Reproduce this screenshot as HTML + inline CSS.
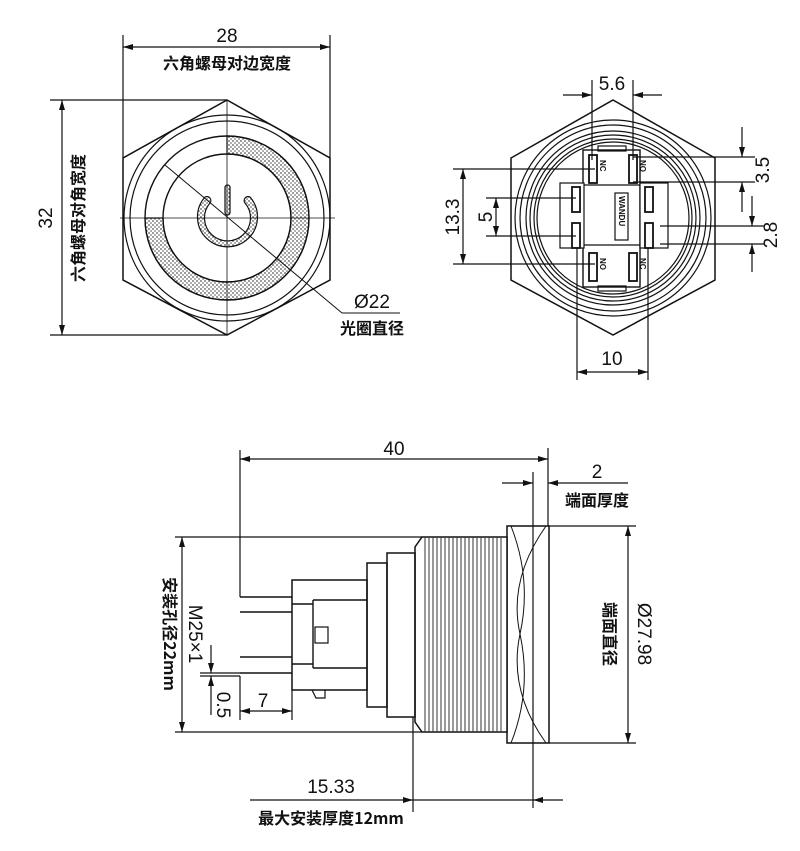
<!DOCTYPE html>
<html><head><meta charset="utf-8"><style>
html,body{margin:0;padding:0;background:#fff;}
svg{display:block;}
text{font-family:"Liberation Sans Narrow","Liberation Sans","Noto Sans CJK SC",sans-serif;fill:#111;}
.n{font-size:19px;}
.c{font-size:16px;font-weight:bold;font-family:"Noto Sans CJK SC","Liberation Sans",sans-serif;}
.cm{font-size:16px;font-weight:bold;font-family:"Liberation Sans Narrow","Noto Sans CJK SC",sans-serif;}
</style></head><body>
<svg width="800" height="851" viewBox="0 0 800 851" xmlns="http://www.w3.org/2000/svg">
<defs>
<pattern id="dots" width="4" height="4" patternUnits="userSpaceOnUse">
<rect width="4" height="4" fill="#fff"/><circle cx="1" cy="1" r="0.9" fill="#555"/><circle cx="3" cy="3" r="0.9" fill="#777"/>
</pattern>
<marker id="a" viewBox="0 0 10 6" refX="10" refY="3" markerWidth="11" markerHeight="6" orient="auto-start-reverse" markerUnits="userSpaceOnUse"><path d="M0,0 L10,3 L0,6 z" fill="#111"/></marker>
</defs>
<g stroke="#111" stroke-width="1.2" fill="none">
<!-- VIEW 1 -->
<polygon points="227,100 330,158 330,280 227,335 123,280 123,158" stroke-width="1.5"/>
<circle cx="227" cy="218" r="103"/>
<circle cx="227" cy="218" r="97"/>
<path d="M227,136 A82,82 0 1 1 145,218 L163,218 A64,64 0 1 0 227,154 Z" fill="url(#dots)"/>
<circle cx="227" cy="218" r="82" stroke-width="1.4"/>
<circle cx="227" cy="218" r="64" stroke-width="1.4"/>
<path d="M205,197 A30,30 0 1 0 250,197 A4,4 0 0 0 245,203 A23,23 0 1 1 210,203 A4,4 0 0 0 205,197 Z" fill="url(#dots)"/>
<rect x="225" y="185" width="5" height="30" rx="2.5" fill="url(#dots)"/>
<line x1="227" y1="100" x2="227" y2="335" stroke-width="0.8"/>
<line x1="120" y1="218" x2="335" y2="218" stroke-width="0.8"/>
<line x1="165" y1="165" x2="342" y2="313" stroke-width="1"/>
<line x1="342" y1="313" x2="400" y2="313" stroke-width="1"/>
<line x1="123" y1="35" x2="123" y2="158"/><line x1="330" y1="35" x2="330" y2="158"/>
<line x1="123" y1="47" x2="330" y2="47" marker-start="url(#a)" marker-end="url(#a)"/>
<line x1="50" y1="100" x2="227" y2="100"/><line x1="50" y1="335" x2="227" y2="335"/>
<line x1="62" y1="100" x2="62" y2="335" marker-start="url(#a)" marker-end="url(#a)"/>

<!-- VIEW 2 -->
<polygon points="613,100 715,158 715,280 613,335 511,280 511,158" stroke-width="1.5"/>
<circle cx="613" cy="218" r="98"/>
<circle cx="613" cy="218" r="93"/>
<circle cx="613" cy="218" r="87"/>
<circle cx="613" cy="218" r="83"/>
<circle cx="613" cy="218" r="79"/>
<circle cx="613" cy="218" r="76"/>
<rect x="583" y="150" width="57" height="137" fill="#fff" stroke-width="1.4"/>
<line x1="583" y1="185" x2="640" y2="185"/><line x1="583" y1="245" x2="640" y2="245"/>
<rect x="598" y="146" width="28" height="5"/><rect x="598" y="286" width="28" height="5"/>
<rect x="560" y="183" width="24" height="65" fill="#fff"/>
<rect x="640" y="183" width="28" height="65" fill="#fff"/>
<rect x="589" y="155" width="8" height="28" stroke-width="1.8"/><rect x="629" y="155" width="8" height="28" stroke-width="1.8"/>
<rect x="589" y="253" width="8" height="28" stroke-width="1.8"/><rect x="629" y="253" width="8" height="28" stroke-width="1.8"/>
<rect x="572" y="187" width="8" height="25" stroke-width="1.8"/><rect x="572" y="223" width="8" height="25" stroke-width="1.8"/>
<rect x="645" y="187" width="8" height="25" stroke-width="1.8"/><rect x="645" y="223" width="8" height="25" stroke-width="1.8"/>
<rect x="615" y="193" width="13" height="47"/>
<line x1="592" y1="80" x2="592" y2="160"/><line x1="633" y1="80" x2="633" y2="160"/>
<line x1="563" y1="95" x2="592" y2="95" marker-end="url(#a)"/><line x1="662" y1="95" x2="633" y2="95" marker-end="url(#a)"/>
<line x1="453" y1="169" x2="595" y2="169"/><line x1="453" y1="264" x2="595" y2="264"/>
<line x1="463" y1="169" x2="463" y2="264" marker-start="url(#a)" marker-end="url(#a)"/>
<line x1="486" y1="198" x2="576" y2="198"/><line x1="486" y1="236" x2="576" y2="236"/>
<line x1="496" y1="198" x2="496" y2="236" marker-start="url(#a)" marker-end="url(#a)"/>
<line x1="633" y1="157" x2="755" y2="157"/><line x1="633" y1="182" x2="755" y2="182"/>
<line x1="742" y1="127" x2="742" y2="157" marker-end="url(#a)"/><line x1="742" y1="212" x2="742" y2="182" marker-end="url(#a)"/>
<line x1="660" y1="226" x2="765" y2="226"/><line x1="660" y1="244" x2="765" y2="244"/>
<line x1="752" y1="196" x2="752" y2="226" marker-end="url(#a)"/><line x1="752" y1="272" x2="752" y2="244" marker-end="url(#a)"/>
<line x1="577" y1="248" x2="577" y2="380"/><line x1="648" y1="248" x2="648" y2="380"/>
<line x1="577" y1="372" x2="648" y2="372" marker-start="url(#a)" marker-end="url(#a)"/>

<!-- VIEW 3 -->
<rect x="507" y="526" width="42" height="217" fill="#fff" stroke-width="1.5"/>
<path d="M511,526 Q532,580 520,634 Q532,690 511,743 M546,526 Q508,580 520,634 Q508,690 546,743" stroke-width="1"/>
<path d="M422,537 L507,537 L507,732 L422,732 L415,722 L415,547 Z" fill="#fff" stroke-width="1.5"/>
<g stroke-width="1" stroke="#333">
<line x1="425" y1="537" x2="425" y2="732"/><line x1="429" y1="537" x2="429" y2="732"/>
<line x1="433" y1="537" x2="433" y2="732"/><line x1="437" y1="537" x2="437" y2="732"/>
<line x1="441" y1="537" x2="441" y2="732"/><line x1="445" y1="537" x2="445" y2="732"/>
<line x1="449" y1="537" x2="449" y2="732"/><line x1="453" y1="537" x2="453" y2="732"/>
<line x1="457" y1="537" x2="457" y2="732"/><line x1="461" y1="537" x2="461" y2="732"/>
<line x1="465" y1="537" x2="465" y2="732"/><line x1="469" y1="537" x2="469" y2="732"/>
<line x1="473" y1="537" x2="473" y2="732"/><line x1="477" y1="537" x2="477" y2="732"/>
<line x1="481" y1="537" x2="481" y2="732"/><line x1="485" y1="537" x2="485" y2="732"/>
<line x1="489" y1="537" x2="489" y2="732"/><line x1="493" y1="537" x2="493" y2="732"/>
<line x1="497" y1="537" x2="497" y2="732"/><line x1="501" y1="537" x2="501" y2="732"/>
</g>
<rect x="387" y="553" width="28" height="164" stroke-width="1.5"/>
<rect x="367" y="563" width="20" height="144" stroke-width="1.5"/>
<path d="M292,580 L367,580 L367,690 L292,690 Z" stroke-width="1.5"/>
<path d="M313,600 L367,600 M313,668 L367,668 M313,600 L313,668 M292,604 L313,604 M292,664 L313,664" stroke-width="1.4"/>
<rect x="315" y="627" width="13" height="16"/>
<path d="M312,690 L316,698 L325,698 L325,690"/>
<g stroke-width="1.4">
<line x1="240" y1="597" x2="292" y2="597"/><line x1="240" y1="612" x2="292" y2="612"/>
<line x1="240" y1="657" x2="292" y2="657"/><line x1="240" y1="673" x2="292" y2="673"/>
</g>
<line x1="240" y1="450" x2="240" y2="597"/><line x1="548" y1="448" x2="548" y2="526"/>
<line x1="240" y1="459" x2="548" y2="459" marker-start="url(#a)" marker-end="url(#a)"/>
<line x1="533" y1="472" x2="533" y2="808"/>
<line x1="502" y1="483" x2="533" y2="483" marker-end="url(#a)"/>
<line x1="628" y1="483" x2="548" y2="483" marker-end="url(#a)"/>
<line x1="175" y1="537" x2="422" y2="537"/><line x1="175" y1="732" x2="422" y2="732"/>
<line x1="182" y1="537" x2="182" y2="732" marker-start="url(#a)" marker-end="url(#a)"/>
<line x1="549" y1="526" x2="636" y2="526"/><line x1="549" y1="743" x2="636" y2="743"/>
<line x1="628" y1="526" x2="628" y2="743" marker-start="url(#a)" marker-end="url(#a)"/>
<line x1="200" y1="673" x2="240" y2="673"/><line x1="200" y1="676" x2="240" y2="676"/>
<line x1="211" y1="645" x2="211" y2="673" marker-end="url(#a)"/><line x1="211" y1="715" x2="211" y2="676" marker-end="url(#a)"/>
<line x1="240" y1="676" x2="240" y2="720"/><line x1="292" y1="690" x2="292" y2="720"/>
<line x1="240" y1="711" x2="292" y2="711" marker-start="url(#a)" marker-end="url(#a)"/>
<line x1="413" y1="717" x2="413" y2="812"/>
<line x1="250" y1="800" x2="413" y2="800" marker-end="url(#a)"/>
<line x1="563" y1="800" x2="533" y2="800" marker-end="url(#a)"/>
<line x1="413" y1="800" x2="533" y2="800"/>
</g>
<!-- texts -->
<text class="n" x="227" y="42" text-anchor="middle">28</text>
<text class="c" x="227" y="69" text-anchor="middle">六角螺母对边宽度</text>
<text class="n" transform="translate(52,218) rotate(-90)" text-anchor="middle">32</text>
<text class="c" transform="translate(84,218) rotate(-90)" text-anchor="middle">六角螺母对角宽度</text>
<text class="n" x="372" y="308" text-anchor="middle">Ø22</text>
<text class="c" x="372" y="334" text-anchor="middle">光圈直径</text>
<text class="n" x="612" y="90" text-anchor="middle">5.6</text>
<text class="n" transform="translate(459,217) rotate(-90)" text-anchor="middle">13.3</text>
<text class="n" transform="translate(492,217) rotate(-90)" text-anchor="middle">5</text>
<text class="n" transform="translate(769,170) rotate(-90)" text-anchor="middle">3.5</text>
<text class="n" transform="translate(777,235) rotate(-90)" text-anchor="middle">2.8</text>
<text class="n" x="612" y="365" text-anchor="middle">10</text>
<g font-size="8" font-weight="bold" font-family="Liberation Sans" fill="#111">
<text transform="translate(600,160) rotate(90)">NC</text><text transform="translate(640,160) rotate(90)">NO</text>
<text transform="translate(600,258) rotate(90)">NO</text><text transform="translate(640,258) rotate(90)">NC</text>
<text transform="translate(619,196) rotate(90)">WANDU</text>
</g>
<text class="n" x="394" y="455" text-anchor="middle">40</text>
<text class="n" x="597" y="478" text-anchor="middle">2</text>
<text class="c" x="597" y="506" text-anchor="middle">端面厚度</text>
<text class="n" transform="translate(189,634) rotate(90)" text-anchor="middle">M25×1</text>
<text class="cm" transform="translate(164,634) rotate(90)" text-anchor="middle">安装孔径22mm</text>
<text class="n" transform="translate(217,705) rotate(90)" text-anchor="middle">0.5</text>
<text class="n" x="263" y="707" text-anchor="middle">7</text>
<text class="n" transform="translate(638,634) rotate(90)" text-anchor="middle">Ø27.98</text>
<text class="c" transform="translate(604,634) rotate(90)" text-anchor="middle">端面直径</text>
<text class="n" x="331" y="793" text-anchor="middle">15.33</text>
<text class="cm" x="331" y="824" text-anchor="middle">最大安装厚度12mm</text>
</svg>
</body></html>
